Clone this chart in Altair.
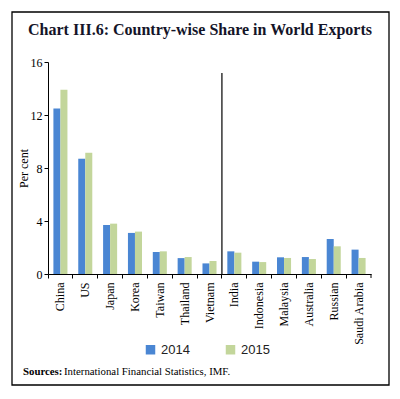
import altair as alt
import pandas as pd

countries = ["China", "US", "Japan", "Korea", "Taiwan", "Thailand", "Vietnam",
             "India", "Indonesia", "Malaysia", "Australia", "Russian", "Saudi Arabia"]
share_2014 = [12.5, 8.7, 3.7, 3.1, 1.66, 1.2, 0.8, 1.71, 0.93, 1.26, 1.28, 2.64, 1.84]
share_2015 = [13.9, 9.15, 3.8, 3.2, 1.71, 1.28, 0.98, 1.61, 0.9, 1.21, 1.13, 2.09, 1.21]
years = ["2014", "2015"]
colors = ["#4A86D3", "#C3D69B"]
title_text = "Chart III.6: Country-wise Share in World Exports"

rows = []
for c, a, b in zip(countries, share_2014, share_2015):
    rows.append({"country": c, "year": "2014", "value": a})
    rows.append({"country": c, "year": "2015", "value": b})
df = pd.DataFrame(rows)

W, H = 323, 212
serif = "Liberation Serif"

xscale = alt.Scale(domain=countries, paddingInner=0, paddingOuter=0)

bars = alt.Chart(df).mark_bar().encode(
    x=alt.X("country:N", sort=countries, scale=xscale,
            axis=alt.Axis(title=None, labelAngle=270, labelFont=serif, labelFontSize=12,
                          labelColor="black", domainColor="black", tickColor="black",
                          tickSize=4, bandPosition=0, labelPadding=4)),
    xOffset=alt.XOffset("year:N", scale=alt.Scale(paddingOuter=0.77, paddingInner=0)),
    y=alt.Y("value:Q", scale=alt.Scale(domain=[0, 16]),
            axis=alt.Axis(values=[0, 4, 8, 12, 16], grid=False, title="Per cent",
                          titleFont=serif, titleFontWeight="normal", titleFontSize=12,
                          titleColor="black", labelFont=serif, labelFontSize=12,
                          labelColor="black", domainColor="black", tickColor="black",
                          tickSize=4, titlePadding=0)),
    color=alt.Color("year:N", scale=alt.Scale(domain=years, range=colors),
                    legend=alt.Legend(title=None, orient="none", direction="horizontal",
                                      legendX=96, legendY=281, symbolType="square",
                                      symbolSize=90, symbolStrokeWidth=0,
                                      labelFont="Liberation Sans", labelFontSize=13,
                                      labelColor="#222", columnPadding=34)),
)

sep_df = pd.DataFrame({"country": ["India"]})
sep = alt.Chart(sep_df).mark_rule(color="black", strokeWidth=1.2).encode(
    x=alt.X("country:N", sort=countries, scale=xscale, bandPosition=0),
    y=alt.value(11), y2=alt.value(H),
)

end_tick = alt.Chart(sep_df).mark_rule(color="black").encode(
    x=alt.value(W), y=alt.value(H), y2=alt.value(H + 4),
)

one = pd.DataFrame({"a": [0]})
border = alt.Chart(one).mark_rect(fill=None, stroke="black", strokeWidth=1.3).encode(
    x=alt.value(-36), x2=alt.value(341), y=alt.value(-50), y2=alt.value(323),
)

title = alt.Chart(one).mark_text(font=serif, fontSize=16, fontWeight="bold",
                                 align="center", baseline="alphabetic", color="#141428").encode(
    x=alt.value(152), y=alt.value(-27), text=alt.value(title_text),
)

src_bold = alt.Chart(one).mark_text(font=serif, fontSize=10.8, fontWeight="bold",
                                    align="left", baseline="middle", color="black").encode(
    x=alt.value(-25), y=alt.value(310), text=alt.value("Sources:"),
)
src_text = alt.Chart(one).mark_text(font=serif, fontSize=10.8, align="left",
                                    baseline="middle", color="black").encode(
    x=alt.value(16), y=alt.value(310),
    text=alt.value("International Financial Statistics, IMF."),
)

chart = alt.layer(bars, sep, end_tick, border, title, src_bold, src_text).properties(
    width=W, height=H,
    autosize=alt.AutoSizeParams(type="none"),
    padding={"left": 40, "top": 54, "right": 21, "bottom": 117},
).configure_view(stroke=None)

chart.save("out.html", embed_options={"renderer": "svg", "actions": False})
